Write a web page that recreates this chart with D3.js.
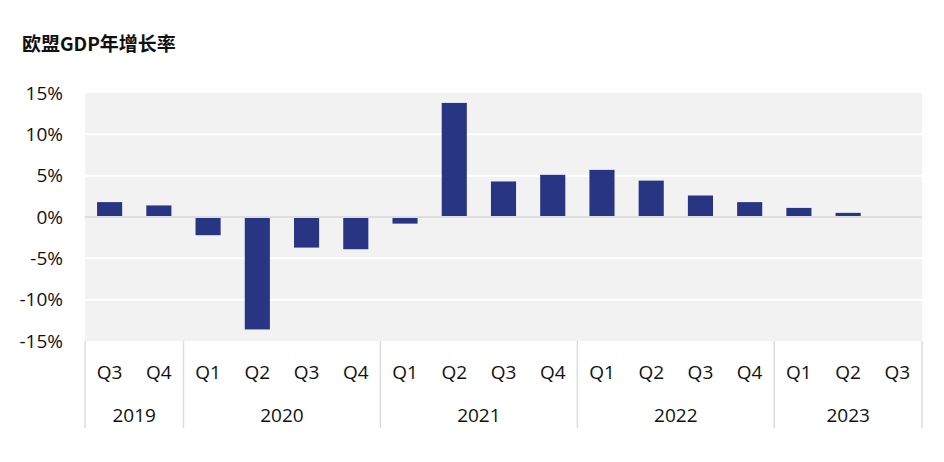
<!doctype html>
<html lang="zh">
<head>
  <meta charset="utf-8">
  <script src="https://cdn.jsdelivr.net/npm/d3@7"></script>
  <title>欧盟GDP年增长率</title>
  <style>
    body { margin: 0; background: #fff; }
    text { font-family: "Open Sans", "Noto Sans", "Noto Sans CJK SC", sans-serif; fill: #111; }
  </style>
</head>
<body>
  <svg id="chart" width="944" height="462"></svg>
  <script>
    // Data
    var quarters = ["Q3","Q4","Q1","Q2","Q3","Q4","Q1","Q2","Q3","Q4","Q1","Q2","Q3","Q4","Q1","Q2","Q3"];
    var yearOf   = ["2019","2019","2020","2020","2020","2020","2021","2021","2021","2021","2022","2022","2022","2022","2023","2023","2023"];
    var growth   = [1.8, 1.4, -2.2, -13.6, -3.7, -3.9, -0.8, 13.8, 4.3, 5.1, 5.7, 4.4, 2.6, 1.8, 1.1, 0.5, null];
    var years    = ["2019","2020","2021","2022","2023"];
    var yTicks   = [-15, -10, -5, 0, 5, 10, 15];

    var plotLeft = 85, plotRight = 922, plotTop = 93, plotBottom = 341;
    var keys = quarters.map(function(q, i) { return yearOf[i] + " " + q; });

    var svg = d3.select("#chart");

    var x = d3.scaleBand().domain(keys).range([plotLeft, plotRight]).paddingInner(0.49).paddingOuter(0.245);
    var y = d3.scaleLinear().domain([-15, 15]).range([plotBottom, plotTop]);
    var gap = x.step() - x.bandwidth();

    // title
    svg.append("text")
        .attr("x", 22)
        .attr("y", 51)
        .style("font-family", "'Noto Sans CJK SC', sans-serif")
        .style("font-size", "19px")
        .style("font-weight", "bold")
        .text("欧盟GDP年增长率");

    // plot background
    svg.append("rect")
        .attr("x", plotLeft)
        .attr("y", plotTop)
        .attr("width", plotRight - plotLeft)
        .attr("height", plotBottom - plotTop)
        .attr("fill", "#f2f2f2");

    // gridlines
    svg.append("g")
      .selectAll("line")
      .data(yTicks.filter(function(d) { return d !== 0 && d !== 15 && d !== -15; }))
      .enter()
      .append("line")
        .attr("x1", plotLeft)
        .attr("x2", plotRight)
        .attr("y1", function(d) { return y(d); })
        .attr("y2", function(d) { return y(d); })
        .attr("stroke", "#fff")
        .attr("stroke-width", 2);

    // bars
    svg.append("g")
      .selectAll("rect")
      .data(growth.map(function(v, i) { return { k: keys[i], v: v }; }).filter(function(d) { return d.v !== null; }))
      .enter()
      .append("rect")
        .attr("x", function(d) { return x(d.k); })
        .attr("y", function(d) { return y(Math.max(0, d.v)); })
        .attr("width", x.bandwidth())
        .attr("height", function(d) { return Math.abs(y(d.v) - y(0)); })
        .attr("fill", "#283583");

    // zero line
    svg.append("line")
        .attr("x1", plotLeft)
        .attr("x2", plotRight)
        .attr("y1", y(0))
        .attr("y2", y(0))
        .attr("stroke", "#dedede")
        .attr("stroke-width", 2);

    // y labels
    svg.append("g")
      .selectAll("text")
      .data(yTicks)
      .enter()
      .append("text")
        .attr("x", 63)
        .attr("y", function(d) { return y(d); })
        .attr("dy", "0.35em")
        .attr("text-anchor", "end")
        .style("font-size", "19px")
        .text(function(d) { return d + "%"; });

    // quarter labels
    svg.append("g")
      .selectAll("text")
      .data(keys)
      .enter()
      .append("text")
        .attr("x", function(d) { return x(d) + x.bandwidth() / 2; })
        .attr("y", 372)
        .attr("dy", "0.35em")
        .attr("text-anchor", "middle")
        .style("font-size", "19px")
        .text(function(d, i) { return quarters[i]; });

    // year groups
    var groups = years.map(function(yr) {
      var ks = keys.filter(function(k, i) { return yearOf[i] === yr; });
      var x0 = x(ks[0]) - gap / 2;
      var x1 = x(ks[ks.length - 1]) + x.bandwidth() + gap / 2;
      return { year: yr, x0: x0, x1: x1 };
    });

    svg.append("g")
      .selectAll("text")
      .data(groups)
      .enter()
      .append("text")
        .attr("x", function(d) { return (d.x0 + d.x1) / 2; })
        .attr("y", 415)
        .attr("dy", "0.35em")
        .attr("text-anchor", "middle")
        .style("font-size", "19px")
        .text(function(d) { return d.year; });

    var seps = groups.map(function(d) { return d.x0; }).concat([plotRight]);
    svg.append("g")
      .selectAll("line")
      .data(seps)
      .enter()
      .append("line")
        .attr("x1", function(d) { return d; })
        .attr("x2", function(d) { return d; })
        .attr("y1", plotBottom)
        .attr("y2", 428)
        .attr("stroke", "#dcdcdc")
        .attr("stroke-width", 1.5);
  </script>
</body>
</html>
